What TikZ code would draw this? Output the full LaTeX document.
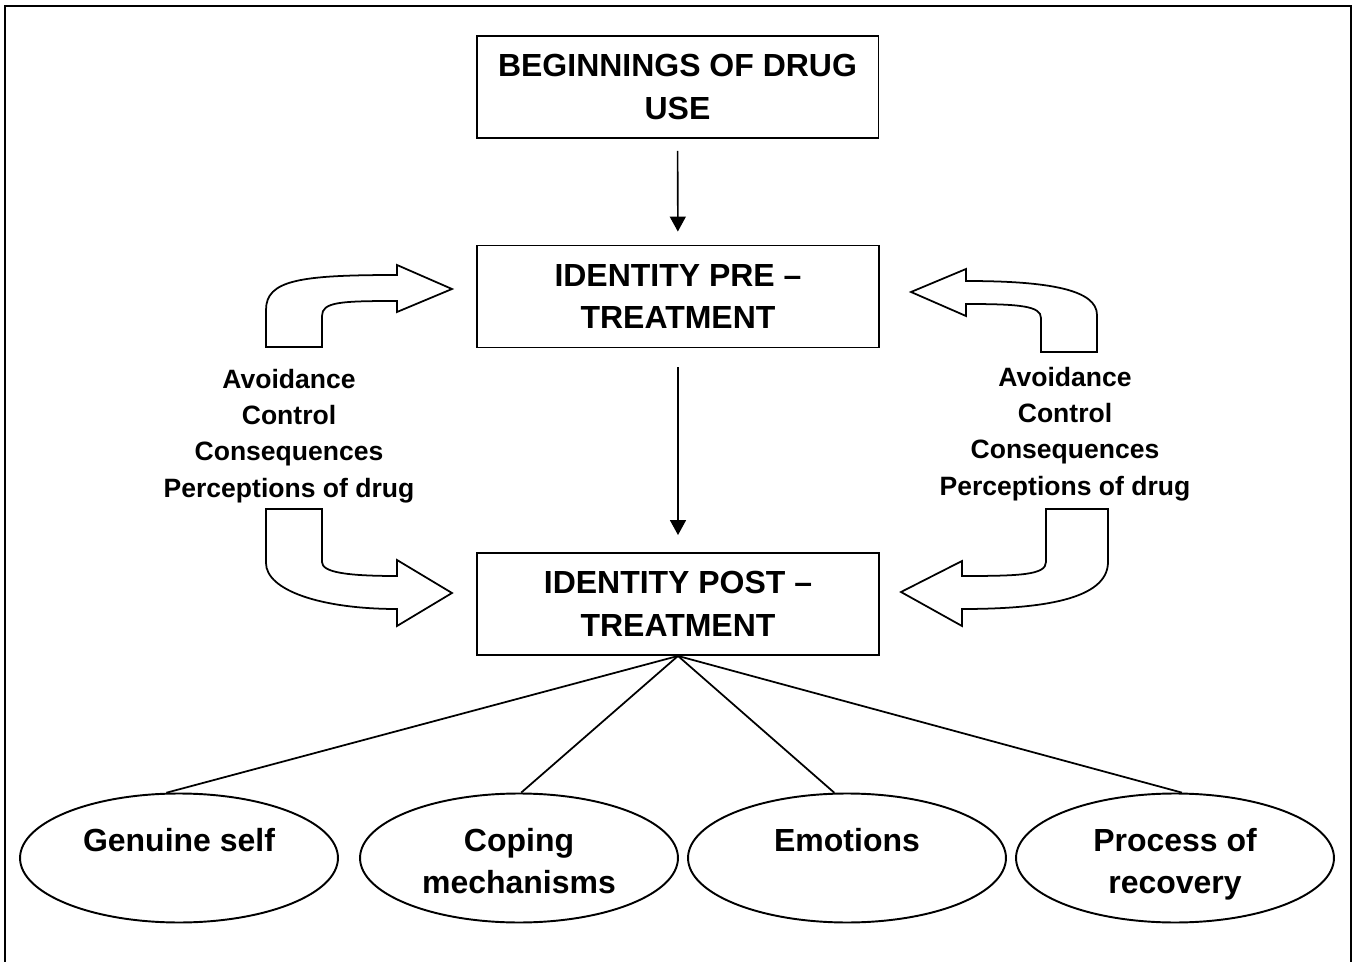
\documentclass[tikz,border=0pt]{standalone}
\usepackage{fontspec}
\setmainfont{Liberation Sans}
\usetikzlibrary{shapes.geometric,arrows.meta}

\begin{document}
\begin{tikzpicture}
  [x=0.02cm,y=-0.02cm,
   box/.style={draw,line width=1.1pt,minimum width=8.04cm,minimum height=2.04cm,
     align=center,font=\fontsize{18.2}{24.2}\selectfont\bfseries},
   oval/.style={draw,ellipse,line width=1.1pt,minimum width=6.36cm,minimum height=2.58cm,inner sep=0pt},
   ovaltext/.style={anchor=north,inner sep=0pt,align=center,font=\fontsize{18.2}{23.8}\selectfont\bfseries},
   sidetext/.style={inner sep=0pt,align=center,font=\fontsize{15.1}{20.6}\selectfont\bfseries},
   bent/.style={draw,line width=1pt,line join=miter,fill=white}]
  \useasboundingbox (0,0) rectangle (1356,962);
  \fill[white] (0,0) rectangle (1356,962);
  \draw[line width=1.2pt] (5,1000) rectangle (1351,6);

  \node[box] (begin) at (677.5,87) {BEGINNINGS OF DRUG\\USE};
  \node[box] (pre) at (678,296.5) {IDENTITY PRE --\\TREATMENT};
  \node[box] (post) at (678,604) {IDENTITY POST --\\TREATMENT};

  \node[oval] (gen) at (179,858) {};
  \node[oval] (cope) at (519,858) {};
  \node[oval] (emo) at (847,858) {};
  \node[oval] (proc) at (1175,858) {};
  \node[ovaltext] (gent) at (179,828) {Genuine self};
  \node[ovaltext] (copet) at (519,828) {Coping\\mechanisms};
  \node[ovaltext] (emot) at (847,828) {Emotions};
  \node[ovaltext] (proct) at (1175,828) {Process of\\recovery};

  \node[sidetext] (leftt) at (289,436) {Avoidance\\Control\\Consequences\\Perceptions of drug};
  \node[sidetext] (rightt) at (1065,434) {Avoidance\\Control\\Consequences\\Perceptions of drug};

 \path[draw,line width=0.9pt,-{Triangle[length=0.3cm,width=0.32cm]}]
    (begin) edge [shorten <=0.24cm,shorten >=0.26cm] (pre)
    (pre) edge [shorten <=0.38cm,shorten >=0.34cm] (post)
    ;
 \path[draw,line width=1pt]
    (post.south) edge (gen.101)
    (post.south) edge (cope.88)
    (post.south) edge (emo.101)
    (post.south) edge (proc.84)
    ;

  % bent block arrows
  \draw[bent] (266,347) -- (266,310) .. controls (266,280) and (300,275) .. (397,275)
    -- (397,265) -- (452,289) -- (397,312) -- (397,301)
    .. controls (340,301) and (322,302) .. (322,316) -- (322,347) -- cycle;
  \draw[bent] (266,509) -- (322,509) -- (322,562) .. controls (322,572) and (345,576) .. (397,576)
    -- (397,560) -- (452,593) -- (397,626) -- (397,609)
    .. controls (320,609) and (266,590) .. (266,563) -- cycle;
  \draw[bent] (911,292) -- (966,269) -- (966,281) .. controls (1050,281) and (1097,290) .. (1097,315)
    -- (1097,352) -- (1041,352) -- (1041,318) .. controls (1041,306) and (1020,304) .. (966,304)
    -- (966,316) -- cycle;
  \draw[bent] (901,592) -- (962,561) -- (962,576) .. controls (1020,576) and (1046,575) .. (1046,562)
    -- (1046,509) -- (1108,509) -- (1108,562) .. controls (1108,600) and (1040,609) .. (962,609)
    -- (962,626) -- cycle;

\end{tikzpicture}
\end{document}
